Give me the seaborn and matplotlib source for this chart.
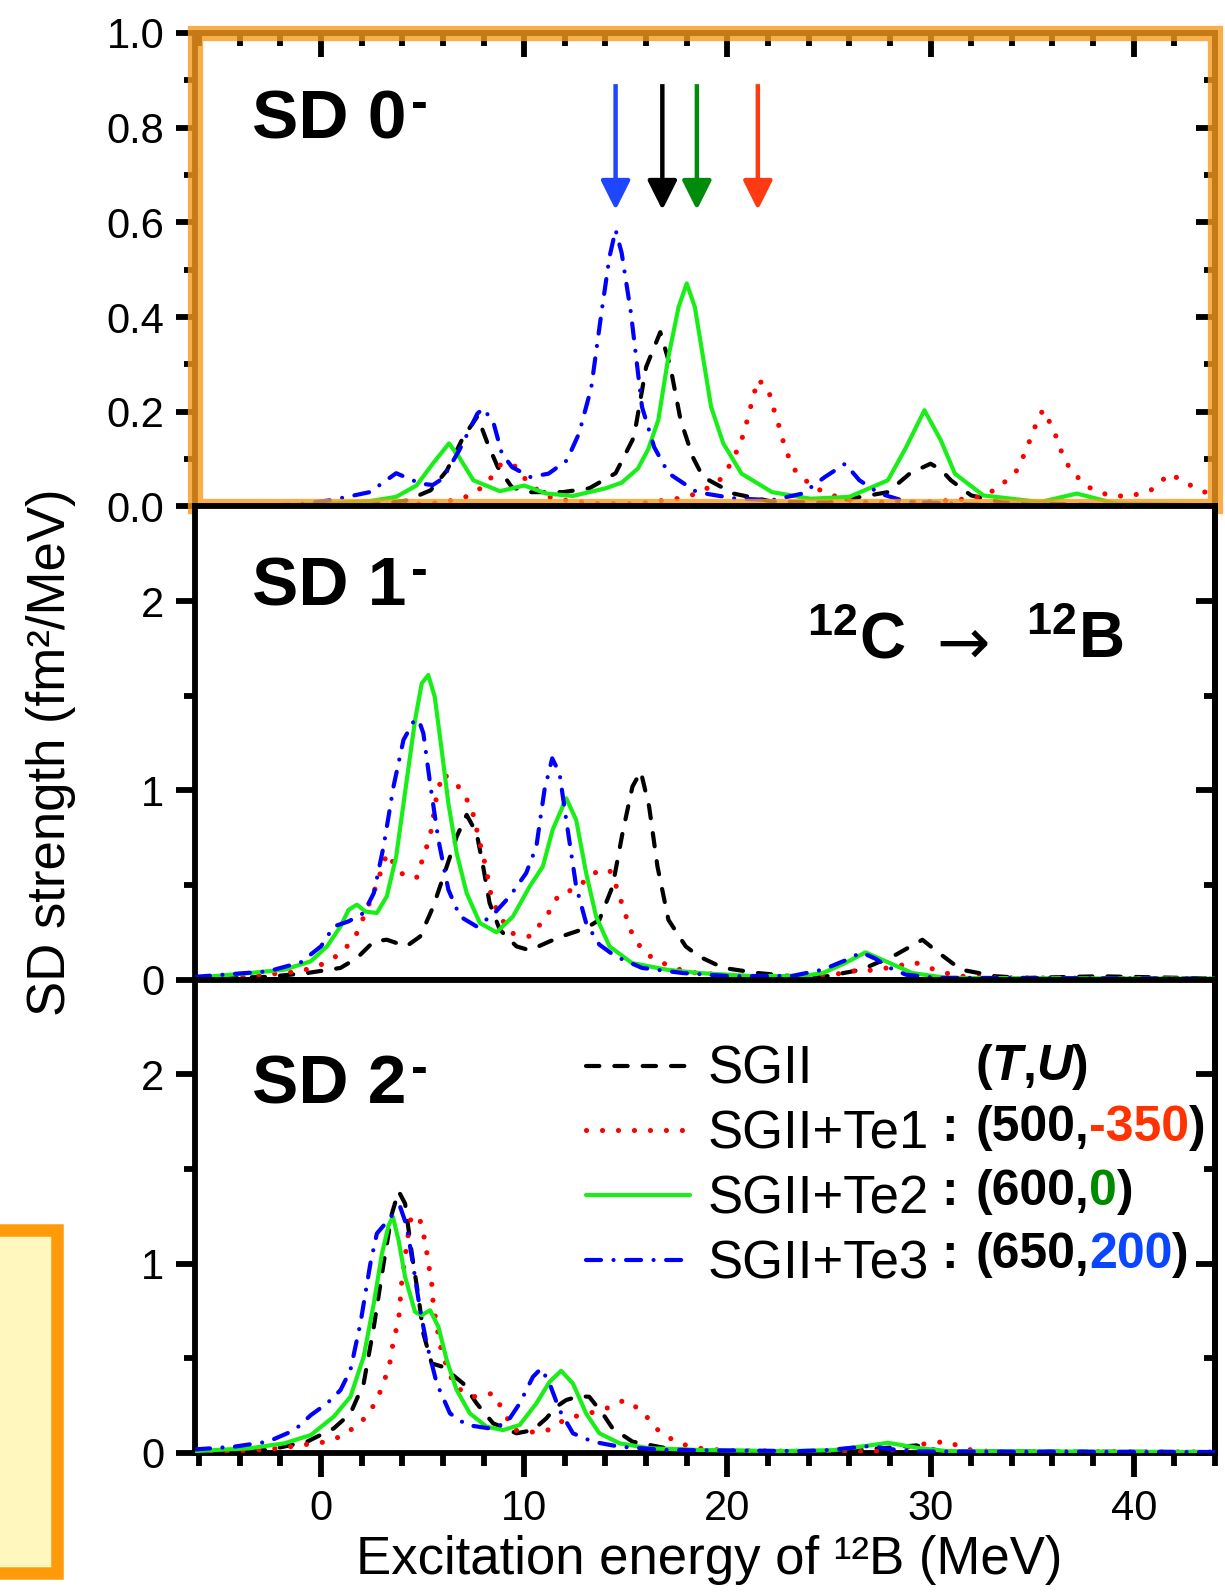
import numpy as np
import pandas as pd
import matplotlib
matplotlib.use("Agg")
import matplotlib.pyplot as plt
import seaborn as sns
from matplotlib.patches import Rectangle
from matplotlib.lines import Line2D
from matplotlib.ticker import MultipleLocator

sns.set_style("ticks")
plt.rcParams["font.family"] = ["Liberation Sans", "DejaVu Sans"]
plt.rcParams.update({
    "text.color": "black", "axes.labelcolor": "black", "xtick.color": "black", "ytick.color": "black",
    "axes.edgecolor": "black", "lines.dash_capstyle": "round", "lines.solid_joinstyle": "round",
    "lines.dash_joinstyle": "round",
    "mathtext.fontset": "custom", "mathtext.rm": "Liberation Sans", "mathtext.bf": "Liberation Sans:bold",
    "mathtext.it": "Liberation Sans:italic",
})

# ---------------- data ----------------
series_names = ["SGII", "SGII+Te1", "SGII+Te2", "SGII+Te3"]

# SD 0-
sd0_sgii_E = [-6.2, 0, 3, 4.2, 5.4, 6.2, 7.0, 7.7, 8.2, 8.7, 9.4, 10.3, 11.9, 13.2, 14.5, 15.4, 16.0, 16.7,
              17.2, 17.7, 18.3, 18.8, 20.3, 22.2, 25.0, 27.9, 29.0, 30.0, 30.5, 31.0, 32.0, 33.5, 38, 44]
sd0_sgii_S = [0.0, 0.003, 0.006, 0.012, 0.034, 0.076, 0.146, 0.19, 0.133, 0.083, 0.04, 0.03, 0.03, 0.038,
              0.07, 0.146, 0.294, 0.368, 0.294, 0.182, 0.104, 0.062, 0.027, 0.01, 0.008, 0.03, 0.07, 0.09,
              0.078, 0.055, 0.023, 0.008, 0.003, 0.002]
sd0_te1_E = [-6.2, 2.9, 4.9, 5.9, 7.0, 8.1, 8.8, 9.3, 9.6, 10.3, 11.4, 12.6, 13.6, 15.5, 16.56, 17.5, 18.54,
             19.57, 20.23, 20.7, 20.98, 21.23, 21.5, 22.0, 22.3, 22.58, 22.87, 23.34, 24.2, 25.2, 26.35, 27.9,
             29.6, 31.24, 32.37, 33.3, 34.25, 34.7, 35.1, 35.53, 36.04, 36.42, 36.89, 37.74, 38.77, 39.8,
             40.84, 41.78, 42.72, 44]
sd0_te1_S = [0.0, 0.002, 0.005, 0.008, 0.017, 0.044, 0.087, 0.092, 0.083, 0.044, 0.016, 0.01, 0.006, 0.005,
             0.011, 0.016, 0.027, 0.052, 0.094, 0.14, 0.182, 0.224, 0.268, 0.249, 0.203, 0.164, 0.118, 0.076,
             0.041, 0.023, 0.009, 0.009, 0.009, 0.013, 0.02, 0.037, 0.076, 0.118, 0.164, 0.204, 0.164, 0.118,
             0.076, 0.041, 0.023, 0.021, 0.034, 0.069, 0.046, 0.02]
sd0_te2_E = [-6.2, -2, 0.5, 2.4, 3.7, 4.7, 5.5, 6.3, 6.8, 7.5, 8.8, 10.0, 11.1, 12.4, 14.0, 14.8, 15.6, 16.1,
             16.6, 17.1, 17.6, 18.0, 18.4, 18.8, 19.2, 19.8, 20.7, 22.2, 24.1, 26.0, 27.9, 28.8, 29.7, 30.5,
             31.2, 32.6, 35.4, 37.2, 39.1, 44]
sd0_te2_S = [0.0, 0.002, 0.006, 0.011, 0.02, 0.044, 0.09, 0.133, 0.104, 0.055, 0.032, 0.044, 0.027, 0.022,
             0.038, 0.05, 0.08, 0.12, 0.182, 0.316, 0.421, 0.471, 0.421, 0.316, 0.21, 0.133, 0.069, 0.03,
             0.016, 0.02, 0.055, 0.125, 0.203, 0.14, 0.069, 0.023, 0.009, 0.027, 0.006, 0.002]
sd0_te3_E = [-6.2, -3.9, -1.2, 0.5, 2.4, 3.7, 4.9, 5.5, 6.0, 6.8, 7.7, 8.0, 8.5, 8.9, 9.4, 10.3, 11.2, 12.1,
             12.7, 13.3, 13.8, 14.2, 14.5, 14.8, 15.25, 15.8, 16.4, 17.1, 18.5, 20.3, 22.2, 23.7, 24.8, 25.8,
             26.5, 27.5, 28.8, 32, 44]
sd0_te3_S = [0.0, 0.0, 0.004, 0.013, 0.03, 0.07, 0.048, 0.045, 0.059, 0.118, 0.196, 0.207, 0.175, 0.112,
             0.083, 0.062, 0.069, 0.097, 0.154, 0.25, 0.408, 0.527, 0.584, 0.535, 0.41, 0.21, 0.125, 0.07,
             0.03, 0.017, 0.013, 0.027, 0.062, 0.09, 0.055, 0.027, 0.01, 0.004, 0.001]

# SD 1-
sd1_sgii_E = [-6.2, -2.6, -0.68, 0.96, 1.77, 2.6, 3.24, 4.2, 4.88, 5.53, 6.19, 6.68, 7.17, 7.66, 7.98, 8.3,
              8.8, 9.62, 10.27, 11.25, 12.07, 13.05, 13.7, 14.35, 14.84, 15.33, 15.74, 16.15, 16.56, 17.1,
              17.95, 18.6, 19.8, 21.5, 23.0, 24.7, 26.6, 28.3, 29.6, 30.3, 31.5, 33.2, 34.6, 38.3, 44]
sd1_sgii_S = [0.005, 0.015, 0.035, 0.062, 0.114, 0.202, 0.211, 0.176, 0.228, 0.387, 0.598, 0.756, 0.87,
              0.774, 0.598, 0.404, 0.264, 0.176, 0.155, 0.202, 0.237, 0.272, 0.316, 0.492, 0.774, 1.02,
              1.099, 0.914, 0.598, 0.316, 0.176, 0.123, 0.062, 0.035, 0.02, 0.014, 0.053, 0.132, 0.211,
              0.15, 0.053, 0.018, 0.009, 0.018, 0.006]
sd1_te1_E = [-6.2, -3.9, -1.0, 0.0, 1.04, 1.77, 2.59, 3.25, 3.9, 4.7, 5.04, 5.37, 5.53, 5.7, 6.0, 6.76, 7.4,
             7.65, 7.9, 8.15, 8.3, 8.7, 9.36, 10.3, 11.1, 11.7, 12.6, 13.4, 14.2, 14.6, 14.9, 15.3, 15.9,
             17.0, 18.0, 19.2, 20.2, 22.5, 25.2, 26.2, 27.2, 28.3, 29.2, 30.2, 31.25, 33, 44]
sd1_te1_S = [0.005, 0.015, 0.044, 0.079, 0.141, 0.246, 0.457, 0.668, 0.563, 0.536, 0.65, 0.756, 0.861, 0.976,
             1.09, 1.02, 0.914, 0.8, 0.686, 0.58, 0.475, 0.352, 0.246, 0.228, 0.334, 0.448, 0.484, 0.563,
             0.58, 0.475, 0.369, 0.246, 0.141, 0.079, 0.04, 0.03, 0.02, 0.014, 0.026, 0.046, 0.05, 0.07,
             0.092, 0.053, 0.02, 0.01, 0.005]
sd1_te2_E = [-6.2, -3.5, -1.8, -0.5, 0.3, 0.96, 1.36, 1.77, 2.18, 2.75, 3.24, 3.7, 4.2, 4.63, 4.96, 5.28, 5.6,
             5.94, 6.27, 6.68, 7.17, 7.82, 8.64, 9.45, 10.27, 10.92, 11.4, 12.07, 12.56, 13.05, 13.54, 14.2,
             15.3, 17.0, 18.6, 21.0, 23.6, 24.7, 25.8, 26.8, 27.8, 29.1, 30.8, 44]
sd1_te2_S = [0.01, 0.035, 0.053, 0.097, 0.176, 0.281, 0.369, 0.396, 0.36, 0.352, 0.44, 0.65, 1.037, 1.371,
             1.565, 1.609, 1.494, 1.213, 0.932, 0.668, 0.457, 0.299, 0.25, 0.334, 0.492, 0.598, 0.791, 0.958,
             0.844, 0.563, 0.334, 0.176, 0.088, 0.053, 0.035, 0.02, 0.018, 0.035, 0.088, 0.144, 0.097,
             0.035, 0.009, 0.005]
sd1_te3_E = [-6.2, -2.6, -1.0, 0.0, 0.63, 1.36, 2.1, 2.6, 3.08, 3.57, 4.06, 4.55, 4.8, 5.04, 5.37, 5.78, 6.27,
             6.84, 7.66, 8.47, 9.29, 10.1, 10.6, 11.0, 11.38, 11.74, 12.07, 12.56, 13.05, 13.7, 14.5, 15.8,
             17.8, 20.2, 23.2, 24.7, 25.9, 26.6, 27.3, 28.0, 28.8, 30.3, 44]
sd1_te3_S = [0.015, 0.044, 0.091, 0.176, 0.281, 0.308, 0.352, 0.457, 0.703, 1.02, 1.266, 1.362, 1.375, 1.301,
             1.037, 0.738, 0.475, 0.334, 0.281, 0.343, 0.44, 0.563, 0.703, 1.002, 1.169, 1.09, 0.844, 0.492,
             0.299, 0.185, 0.123, 0.062, 0.035, 0.018, 0.02, 0.053, 0.106, 0.144, 0.11, 0.062, 0.026, 0.01,
             0.005]

# SD 2-
sd2_sgii_E = [-6.2, -2.6, -0.68, 0.63, 1.45, 2.1, 2.6, 3.08, 3.49, 3.82, 4.14, 4.47, 4.8, 5.04, 5.45, 6.0,
              7.0, 7.66, 8.47, 9.62, 10.43, 11.09, 11.58, 12.07, 12.72, 13.2, 13.86, 14.35, 15.33, 17.0,
              18.6, 22, 25.5, 27.6, 29.3, 30.5, 33, 44]
sd2_sgii_S = [0.007, 0.016, 0.06, 0.13, 0.209, 0.367, 0.666, 1.0, 1.264, 1.383, 1.317, 1.053, 0.824, 0.631,
              0.473, 0.455, 0.367, 0.262, 0.157, 0.104, 0.121, 0.183, 0.244, 0.28, 0.3, 0.297, 0.209, 0.13,
              0.06, 0.025, 0.012, 0.01, 0.01, 0.025, 0.04, 0.01, 0.008, 0.005]
sd2_te1_E = [-6.2, -4.93, -3.13, -1.98, -1.0, 0.0, 0.95, 1.94, 2.67, 3.08, 3.4, 3.57, 3.82, 3.98, 4.14, 4.39,
             4.65, 4.88, 5.13, 5.29, 5.45, 5.53, 5.86, 6.19, 6.6, 7.5, 8.47, 9.05, 9.46, 10.3, 11.1, 12.1,
             13.87, 14.93, 15.75, 16.65, 17.6, 18.6, 19.6, 20.6, 22.6, 25.8, 27.8, 29.8, 30.8, 31.8, 32.9, 44]
sd2_te1_S = [0.004, 0.005, 0.016, 0.025, 0.042, 0.054, 0.086, 0.156, 0.262, 0.367, 0.482, 0.596, 0.701,
             0.912, 1.035, 1.228, 1.26, 1.228, 1.114, 1.0, 0.894, 0.78, 0.57, 0.455, 0.35, 0.297, 0.315,
             0.209, 0.121, 0.11, 0.117, 0.183, 0.227, 0.279, 0.227, 0.113, 0.051, 0.025, 0.016, 0.012, 0.01,
             0.007, 0.01, 0.05, 0.061, 0.019, 0.008, 0.005]
sd2_te2_E = [-6.2, -3.5, -1.8, -0.5, 0.63, 1.45, 2.1, 2.6, 3.0, 3.33, 3.54, 3.82, 4.14, 4.63, 4.96, 5.37, 5.78,
             6.19, 6.68, 7.33, 8.15, 8.96, 9.78, 10.6, 11.25, 11.82, 12.4, 13.05, 13.7, 14.7, 16.15, 18.6,
             22.7, 25.2, 26.8, 27.9, 29.5, 30.8, 44]
sd2_te2_S = [0.01, 0.025, 0.051, 0.095, 0.192, 0.297, 0.508, 0.79, 1.053, 1.203, 1.247, 1.123, 0.93, 0.745,
             0.728, 0.754, 0.666, 0.49, 0.332, 0.209, 0.139, 0.121, 0.148, 0.262, 0.376, 0.434, 0.367, 0.209,
             0.104, 0.051, 0.025, 0.016, 0.01, 0.015, 0.037, 0.054, 0.025, 0.01, 0.005]
sd2_te3_E = [-6.2, -4.3, -2.6, -1.3, -0.5, 0.3, 0.96, 1.45, 1.94, 2.43, 2.75, 3.16, 3.57, 3.9, 4.22, 4.55,
             4.88, 5.2, 5.7, 6.35, 7.17, 8.3, 9.13, 9.78, 10.43, 10.84, 11.25, 11.74, 12.4, 13.37, 14.7, 17.0,
             23.6, 24.9, 25.9, 27.0, 28.1, 29.5, 44]
sd2_te3_S = [0.019, 0.033, 0.06, 0.121, 0.2, 0.262, 0.332, 0.438, 0.684, 1.0, 1.159, 1.211, 1.264, 1.299, 1.2,
             0.983, 0.754, 0.578, 0.367, 0.209, 0.148, 0.13, 0.157, 0.262, 0.402, 0.447, 0.367, 0.227, 0.104,
             0.06, 0.033, 0.016, 0.01, 0.015, 0.025, 0.037, 0.019, 0.008, 0.005]

# centroid arrows in SD 0- panel (MeV)
arrow_E = [14.5, 16.8, 18.5, 21.5]
panel_titles = ["SD 0", "SD 1", "SD 2"]
param_T = ["500", "600", "650"]
param_U = ["-350", "0", "200"]
x_ticks = [0, 10, 20, 30, 40]

# ---------------- styles ----------------
colors = {"SGII": "#000000", "SGII+Te1": "#FF0000", "SGII+Te2": "#19EE19", "SGII+Te3": "#0000FF"}
styles = {"SGII": (0, (3.2, 3.6)), "SGII+Te1": (0, (0.01, 3.1)),
          "SGII+Te2": "-", "SGII+Te3": (0, (3.6, 3.0, 0.01, 3.0))}
widths = {"SGII": 3.0, "SGII+Te1": 3.7, "SGII+Te2": 3.0, "SGII+Te3": 3.0}
zorders = {"SGII": 3, "SGII+Te1": 3, "SGII+Te2": 4, "SGII+Te3": 5}
arrow_colors = ["#1E46FF", "#000000", "#008C0A", "#FF3A12"]
U_colors = ["#FF3300", "#008A00", "#0A46FF"]

panels = [
    {"SGII": (sd0_sgii_E, sd0_sgii_S), "SGII+Te1": (sd0_te1_E, sd0_te1_S),
     "SGII+Te2": (sd0_te2_E, sd0_te2_S), "SGII+Te3": (sd0_te3_E, sd0_te3_S)},
    {"SGII": (sd1_sgii_E, sd1_sgii_S), "SGII+Te1": (sd1_te1_E, sd1_te1_S),
     "SGII+Te2": (sd1_te2_E, sd1_te2_S), "SGII+Te3": (sd1_te3_E, sd1_te3_S)},
    {"SGII": (sd2_sgii_E, sd2_sgii_S), "SGII+Te1": (sd2_te1_E, sd2_te1_S),
     "SGII+Te2": (sd2_te2_E, sd2_te2_S), "SGII+Te3": (sd2_te3_E, sd2_te3_S)},
]

W, H = 1225, 1592
fig = plt.figure(figsize=(W / 100, H / 100), dpi=100)
fig.patch.set_facecolor("white")

left_px, right_px, top_px, bot_px = 195, 1215, 33, 1453
ph = (bot_px - top_px) / 3
axes = []
for i in range(3):
    top = top_px + i * ph
    ax = fig.add_axes([left_px / W, 1 - (top + ph) / H, (right_px - left_px) / W, ph / H])
    axes.append(ax)

SP = 4.2
for i, ax in enumerate(axes):
    data = panels[i]
    for name in series_names:
        E, S = data[name]
        df = pd.DataFrame({"E": E, "S": S})
        sns.lineplot(data=df, x="E", y="S", ax=ax, color=colors[name], linestyle=styles[name],
                     lw=widths[name], estimator=None, sort=False, legend=False, zorder=zorders[name])
    ax.set_xlabel("")
    ax.set_ylabel("")
    ax.set_xlim(-6.2, 44)
    if i == 0:
        ax.set_ylim(0, 1.0)
        ax.yaxis.set_major_locator(MultipleLocator(0.2))
        ax.yaxis.set_minor_locator(MultipleLocator(0.1))
        ax.yaxis.set_major_formatter(matplotlib.ticker.FormatStrFormatter("%.1f"))
    else:
        ax.set_ylim(0, 2.5)
        ax.set_yticks([0, 1, 2])
        ax.set_yticks([0.5, 1.5], minor=True)
        ax.set_yticklabels(["0", "1", "2"])
    ax.xaxis.set_major_locator(MultipleLocator(10))
    ax.xaxis.set_minor_locator(MultipleLocator(2))
    for s in ax.spines.values():
        s.set_linewidth(SP)
        s.set_color("black")
    ax.tick_params(axis="x", which="major", direction="out", length=17, width=SP, bottom=True, top=False,
                   labelsize=30, pad=9)
    ax.tick_params(axis="x", which="minor", direction="out", length=9, width=SP, bottom=True, top=False)
    ax.tick_params(axis="y", which="major", direction="out", length=14, width=SP, left=True, right=False,
                   labelsize=30, pad=8)
    ax.tick_params(axis="y", which="minor", direction="out", length=8, width=SP, left=True, right=False)
    if i < 2:
        ax.tick_params(axis="x", labelbottom=False)
    else:
        ax.set_xticks(x_ticks)
        ax.set_xticklabels([str(t) for t in x_ticks])
    # right-hand inward ticks
    yt = ax.get_yticks()
    sec = ax.secondary_yaxis("right")
    sec.set_yticks(yt[(yt >= ax.get_ylim()[0]) & (yt <= ax.get_ylim()[1])])
    sec.yaxis.set_minor_locator(ax.yaxis.get_minor_locator())
    sec.tick_params(axis="y", which="major", direction="in", length=14, width=SP, labelright=False)
    sec.tick_params(axis="y", which="minor", direction="in", length=8, width=SP)
    sec.spines["right"].set_linewidth(SP)
    if i == 0:
        sect = ax.secondary_xaxis("top")
        sect.xaxis.set_major_locator(MultipleLocator(10))
        sect.xaxis.set_minor_locator(MultipleLocator(2))
        sect.tick_params(axis="x", which="major", direction="in", length=17, width=SP, labeltop=False)
        sect.tick_params(axis="x", which="minor", direction="in", length=9, width=SP)
        sect.spines["top"].set_linewidth(SP)

    # panel title with superscript minus
    ty = [0.815, 0.828, 0.776][i]
    t = ax.text(0.056, ty, panel_titles[i], transform=ax.transAxes, fontsize=50, fontweight="bold",
                ha="left", va="center", zorder=8)
    ax.annotate("-", xy=(1, 0.74), xycoords=t, xytext=(3, 0), textcoords="offset points",
                fontsize=36, fontweight="bold", ha="left", va="center")

ax0, ax1, ax2 = axes

# arrows
for e, c in zip(arrow_E, arrow_colors):
    ax0.annotate("", xy=(e, 0.626), xytext=(e, 0.892),
                 arrowprops=dict(arrowstyle="-|>,head_length=0.9,head_width=0.45", color=c, lw=3.2,
                                 shrinkA=0, shrinkB=0, mutation_scale=20, capstyle="butt"), zorder=6)

# orange frame around the top panel
ax0.add_patch(Rectangle((0, 0), 1, 1, transform=ax0.transAxes, fill=False, edgecolor="#F79A1E",
                        lw=11, alpha=0.8, clip_on=False, zorder=20))

# reaction label: 12C -> 12B
tc = ax1.text(0.6, 0.715, r"$\mathbf{^{12}C}$", transform=ax1.transAxes, fontsize=46,
              ha="left", va="center")
ax1.annotate("→", xy=(1, 0.42), xycoords=tc, xytext=(22, 0), textcoords="offset points",
             fontsize=46, family="DejaVu Sans", ha="left", va="center")
ax1.annotate(r"$\mathbf{^{12}B}$", xy=(1, 0), xycoords=tc, xytext=(87, 0), textcoords="offset points",
             fontsize=46, ha="left", va="bottom")

# legend
handles = [Line2D([], [], color=colors[n], linestyle=styles[n], lw=widths[n]) for n in series_names]
ax2.legend(handles, series_names, loc="upper left", bbox_to_anchor=(0.383, 0.862), frameon=False,
           fontsize=38, handlelength=1.97, handletextpad=0.34, labelspacing=0.28, borderpad=0,
           borderaxespad=0)

rows_y = [0.816, 0.686, 0.551, 0.418]
xc = 0.765
# header (T,U)
prev = ax2.text(xc, rows_y[0], "(", transform=ax2.transAxes, fontsize=36, fontweight="bold",
                ha="left", va="center")
for piece, style in [("T", "italic"), (",", "normal"), ("U", "italic"), (")", "normal")]:
    prev = ax2.annotate(piece, xy=(1, 0), xycoords=prev, fontsize=36, fontweight="bold",
                        fontstyle=style, ha="left", va="bottom")
for r in range(3):
    y = rows_y[r + 1]
    ax2.text(0.740, y, ":", transform=ax2.transAxes, fontsize=36, fontweight="bold", ha="center",
             va="center")
    prev = ax2.text(xc, y, "(" + param_T[r] + ",", transform=ax2.transAxes, fontsize=36,
                    fontweight="bold", ha="left", va="center")
    prev = ax2.annotate(param_U[r], xy=(1, 0), xycoords=prev, fontsize=36, fontweight="bold",
                        color=U_colors[r], ha="left", va="bottom")
    ax2.annotate(")", xy=(1, 0), xycoords=prev, fontsize=36, fontweight="bold", ha="left", va="bottom")

# axis labels
ax2.set_xlabel("Excitation energy of ¹²B (MeV)", fontsize=38)
ax2.xaxis.set_label_coords(0.504, -0.226)
ax2.xaxis.label.set_va("center")
ax1.set_ylabel("SD strength (fm²/MeV)", fontsize=38)
ax1.yaxis.set_label_coords(-0.141, 0.48)
ax1.yaxis.label.set_va("center")

# decorative yellow note box (partly outside the figure)
fig.add_artist(Rectangle((-20 / W, 1 - 1573 / H), (56.5 + 20) / W, (1573 - 1230) / H,
                         transform=fig.transFigure, facecolor="#FFF7BD", edgecolor="#FF9A0A",
                         lw=9.0, zorder=0))

fig.savefig("out.png", dpi=100)
